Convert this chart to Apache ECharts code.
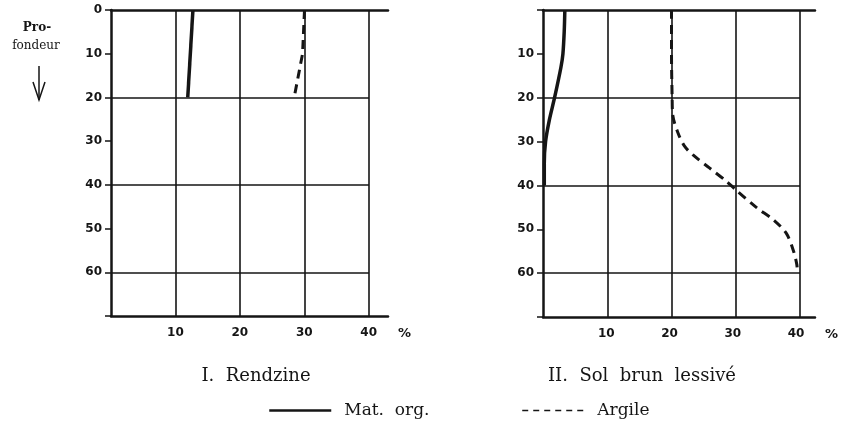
<!DOCTYPE html>
<html>
<head>
<meta charset="utf-8">
<script src="https://cdn.jsdelivr.net/npm/echarts@6/dist/echarts.min.js"></script>
<style>
  html, body { margin: 0; padding: 0; background: #fff; }
  #main { width: 841px; height: 427px; }
</style>
</head>
<body>
<div id="main"></div>
<script>
// profondeur (cm) en y, pourcentage en x
var depthMax = 70;
var pctMax = 40;
var axisEnd = 43;

// I. Rendzine
var rendzineOrgDepth = [0, 20];
var rendzineOrg = [12.7, 11.9];
var rendzineArgDepth = [0, 10, 20];
var rendzineArg = [30.0, 29.7, 28.4];

// II. Sol brun lessivé
var brunOrgDepth = [0, 5, 10, 13, 20, 25, 30, 35, 40];
var brunOrg = [3.4, 3.3, 3.1, 2.8, 1.8, 1.0, 0.4, 0.2, 0.2];
var brunArgDepth = [0, 10, 20, 24, 28, 31, 33, 36, 39, 41, 45, 48, 51, 55, 58, 60];
var brunArg = [20, 20, 20.1, 20.2, 21, 22, 23.3, 25.9, 28.5, 30, 33.2, 36, 37.9, 39, 39.5, 39.6];

var ink = '#151515';
var tickFont = { fontFamily: 'DejaVu Sans', fontWeight: 'bold', fontSize: 12, color: ink };
var serif = 'DejaVu Serif';

function pairs(xs, ds) {
  return xs.map(function (x, i) { return [x, ds[i]]; });
}

// two grids per panel: A = grid lines 0..40 and curves, B = axis frame 0..43
function panelAxes(gA, gB, showZero) {
  var x = [
    {
      gridIndex: gA, type: 'value', min: 0, max: pctMax, interval: 10,
      axisLine: { show: false }, axisTick: { show: false }, axisLabel: { show: false },
      splitLine: { show: true, showMinLine: false, showMaxLine: true, lineStyle: { color: ink, width: 1.6 } }
    },
    {
      gridIndex: gB, type: 'value', position: 'bottom', min: 0, max: axisEnd, interval: 10,
      axisLine: { show: true, onZero: false, lineStyle: { color: ink, width: 2.5 } },
      axisTick: { show: false },
      splitLine: { show: false },
      axisLabel: Object.assign({ margin: 11, formatter: function (v) { return (v > 0 && v % 10 === 0) ? v : ''; } }, tickFont),
      name: '%', nameLocation: 'end', nameGap: 10,
      nameTextStyle: { fontFamily: 'DejaVu Sans', fontWeight: 'bold', fontSize: 13, color: ink, verticalAlign: 'top', padding: [11, 0, 0, 0] }
    },
    {
      gridIndex: gB, type: 'value', position: 'top', min: 0, max: axisEnd, interval: 10,
      axisLine: { show: true, onZero: false, lineStyle: { color: ink, width: 2.5 } },
      axisTick: { show: false }, axisLabel: { show: false }, splitLine: { show: false }
    }
  ];
  var y = [
    {
      gridIndex: gA, type: 'value', inverse: true, min: 0, max: depthMax, interval: 20,
      axisLine: { show: false }, axisTick: { show: false }, axisLabel: { show: false },
      splitLine: { show: true, showMinLine: false, showMaxLine: false, lineStyle: { color: ink, width: 1.6 } }
    },
    {
      gridIndex: gB, type: 'value', inverse: true, min: 0, max: depthMax, interval: 10,
      axisLine: { show: true, onZero: false, lineStyle: { color: ink, width: 2.5 } },
      axisTick: { show: true, inside: false, length: 6, lineStyle: { color: ink, width: 1.5 } },
      splitLine: { show: false },
      axisLabel: Object.assign({ margin: 9, formatter: function (v) {
        if (v >= depthMax) return '';
        if (v === 0 && !showZero) return '';
        return v;
      } }, tickFont)
    }
  ];
  return { x: x, y: y };
}

var left = panelAxes(0, 1, true);
var right = panelAxes(2, 3, false);

function curve(name, xs, ds, axisIdx, dashed, smooth) {
  return {
    name: name, type: 'line', xAxisIndex: axisIdx.x, yAxisIndex: axisIdx.y,
    data: pairs(xs, ds), symbol: 'none', showSymbol: false, smooth: smooth, clip: false,
    itemStyle: { color: ink },
    lineStyle: { color: ink, width: dashed ? 3 : 3.5, type: dashed ? [9, 6] : 'solid' },
    animation: false
  };
}

var chart = echarts.init(document.getElementById('main'));
chart.setOption({
  animation: false,
  backgroundColor: '#fff',
  grid: [
    { left: 111, top: 10, width: 258, height: 306 },
    { left: 111, top: 10, width: 277, height: 306 },
    { left: 543, top: 10, width: 257, height: 307 },
    { left: 543, top: 10, width: 276, height: 307 }
  ],
  xAxis: left.x.concat(right.x),
  yAxis: left.y.concat(right.y),
  legend: {
    left: 268, top: 402, padding: 0, itemWidth: 62, itemHeight: 12, itemGap: 92,
    itemStyle: { opacity: 0 },
    textStyle: { fontFamily: serif, fontSize: 17, color: ink, padding: [0, 0, 0, 8] },
    formatter: function (name) { return name.replace(' ', '  '); },
    data: [
      { name: 'Mat. org.', lineStyle: { width: 2.5, type: 'solid' } },
      { name: 'Argile', lineStyle: { width: 1.5, type: [6, 5] } }
    ]
  },
  series: [
    curve('Mat. org.', rendzineOrg, rendzineOrgDepth, { x: 0, y: 0 }, false, false),
    curve('Argile', rendzineArg, rendzineArgDepth, { x: 0, y: 0 }, true, false),
    curve('Mat. org.', brunOrg, brunOrgDepth, { x: 3, y: 2 }, false, 0.3),
    curve('Argile', brunArg, brunArgDepth, { x: 3, y: 2 }, true, 0.3)
  ],
  graphic: [
    { type: 'text', x: 37, y: 28, style: { text: 'Pro-', font: 'bold 12px "DejaVu Serif"', fill: ink, textAlign: 'center', textVerticalAlign: 'middle' } },
    { type: 'text', x: 36, y: 46, style: { text: 'fondeur', font: '12px "DejaVu Serif"', fill: ink, textAlign: 'center', textVerticalAlign: 'middle' } },
    { type: 'line', shape: { x1: 39, y1: 66, x2: 39, y2: 100 }, style: { stroke: ink, lineWidth: 1.5 } },
    { type: 'polyline', shape: { points: [[33, 82], [39, 100], [45, 82]] }, style: { stroke: ink, lineWidth: 1.5, fill: null } },
    { type: 'text', x: 256, y: 376, style: { text: 'I.  Rendzine', font: '18px "DejaVu Serif"', fill: ink, textAlign: 'center', textVerticalAlign: 'middle' } },
    { type: 'text', x: 642, y: 376, style: { text: 'II.  Sol  brun  lessivé', font: '18px "DejaVu Serif"', fill: ink, textAlign: 'center', textVerticalAlign: 'middle' } }
  ]
});
window.addEventListener('resize', function () { chart.resize(); });
</script>
</body>
</html>
